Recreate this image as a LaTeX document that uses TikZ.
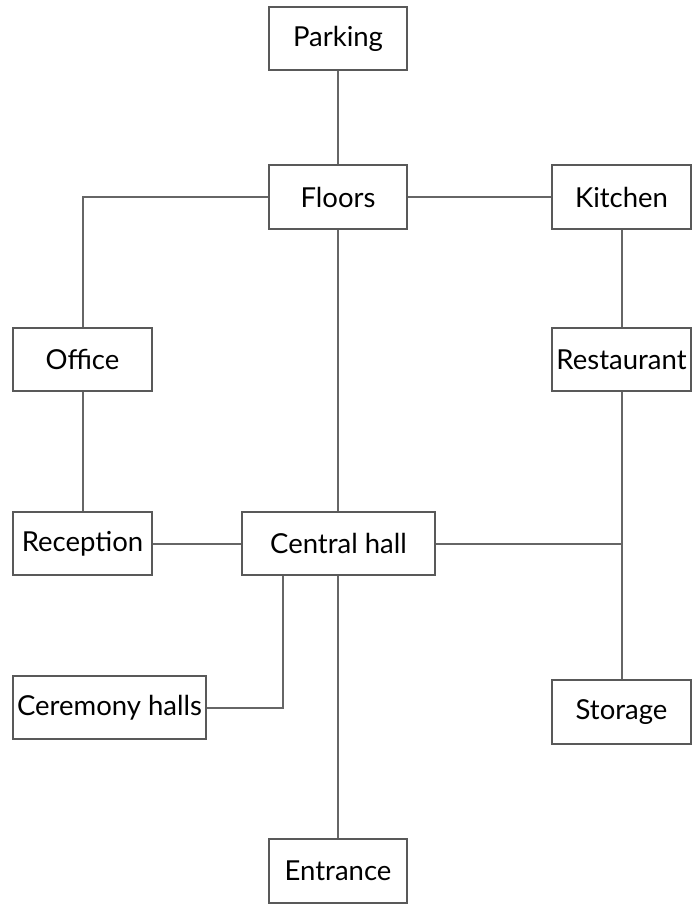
\documentclass[tikz,border=0pt]{standalone}
\usepackage{fontspec}
\setmainfont{Lato}
\begin{document}
\begin{tikzpicture}[x=1pt,y=-1pt,
  box/.style={draw=black!65,line width=2pt,fill=white,inner sep=0pt,minimum height=63pt,font=\fontsize{27.5}{30}\selectfont},
  link/.style={draw=black!60,line width=2pt}]
\useasboundingbox (0,0) rectangle (692,904);
\node[box,minimum width=138pt] (park) at (338,38.5) {Parking};
\node[box,minimum width=138pt] (floors) at (338,197) {Floors};
\node[box,minimum width=139pt] (kitchen) at (621.5,197) {Kitchen};
\node[box,minimum width=139pt] (office) at (82.5,359.5) {Office};
\node[box,minimum width=139pt] (rest) at (621.5,359.5) {Restaurant};
\node[box,minimum width=139pt] (recep) at (82.5,543.5) {Reception};
\node[box,minimum width=193pt] (central) at (338.5,543.5) {Central hall};
\node[box,minimum width=193pt] (cere) at (109.5,707.5) {Ceremony halls};
\node[box,minimum width=139pt,minimum height=64pt] (stor) at (621.5,712) {Storage};
\node[box,minimum width=138pt,minimum height=64pt] (entr) at (338,871) {Entrance};
\coordinate (junc) at (rest.south |- central.east);
\draw[link] (park) -- (floors);
\draw[link] (floors.west) -| (office.north);
\draw[link] (floors) -- (kitchen);
\draw[link] (kitchen) -- (rest);
\draw[link] (rest.south) -- (stor.north);
\draw[link] (central.east) -- (junc);
\draw[link] (floors.south) -- (floors.south |- central.north);
\draw[link] (office) -- (recep);
\draw[link] (recep) -- (central);
\draw[link] ([xshift=-55.5pt]central.south) |- (cere.east);
\draw[link] (entr.north |- central.south) -- (entr.north);
\end{tikzpicture}
\end{document}
